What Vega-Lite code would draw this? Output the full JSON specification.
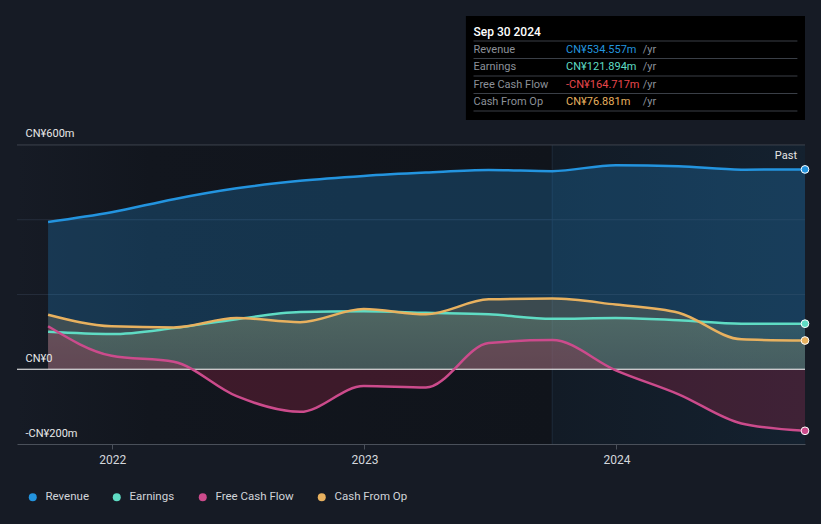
{
  "$schema": "https://vega.github.io/schema/vega-lite/v6.json",
  "width": 788,
  "height": 428,
  "autosize": "none",
  "padding": {"left": 17, "top": 16, "right": 16, "bottom": 80},
  "background": "#161b25",
  "config": {
    "view": {"stroke": null},
    "font": "Roboto",
    "axis": {"titleColor": "transparent", "grid": false},
    "axisX": {"zindex": 1},
    "axisY": {"zindex": 1}
  },
  "datasets": {
    "fin": [
      {"date": "2021-09-30", "series": "Revenue", "value": 394},
      {"date": "2021-12-31", "series": "Revenue", "value": 420},
      {"date": "2022-03-31", "series": "Revenue", "value": 455},
      {"date": "2022-06-30", "series": "Revenue", "value": 484},
      {"date": "2022-09-30", "series": "Revenue", "value": 504},
      {"date": "2022-12-31", "series": "Revenue", "value": 517},
      {"date": "2023-03-31", "series": "Revenue", "value": 526},
      {"date": "2023-06-30", "series": "Revenue", "value": 533},
      {"date": "2023-09-30", "series": "Revenue", "value": 530},
      {"date": "2023-12-31", "series": "Revenue", "value": 546},
      {"date": "2024-03-31", "series": "Revenue", "value": 543},
      {"date": "2024-06-30", "series": "Revenue", "value": 534},
      {"date": "2024-09-30", "series": "Revenue", "value": 534.557},
      {"date": "2021-09-30", "series": "Earnings", "value": 100},
      {"date": "2021-12-31", "series": "Earnings", "value": 94},
      {"date": "2022-03-31", "series": "Earnings", "value": 110},
      {"date": "2022-06-30", "series": "Earnings", "value": 134},
      {"date": "2022-09-30", "series": "Earnings", "value": 153},
      {"date": "2022-12-31", "series": "Earnings", "value": 155},
      {"date": "2023-03-31", "series": "Earnings", "value": 151},
      {"date": "2023-06-30", "series": "Earnings", "value": 147},
      {"date": "2023-09-30", "series": "Earnings", "value": 135},
      {"date": "2023-12-31", "series": "Earnings", "value": 137},
      {"date": "2024-03-31", "series": "Earnings", "value": 131},
      {"date": "2024-06-30", "series": "Earnings", "value": 122},
      {"date": "2024-09-30", "series": "Earnings", "value": 121.894},
      {"date": "2021-09-30", "series": "Free Cash Flow", "value": 115},
      {"date": "2021-12-31", "series": "Free Cash Flow", "value": 36},
      {"date": "2022-03-31", "series": "Free Cash Flow", "value": 20},
      {"date": "2022-06-30", "series": "Free Cash Flow", "value": -72},
      {"date": "2022-09-30", "series": "Free Cash Flow", "value": -114},
      {"date": "2022-12-31", "series": "Free Cash Flow", "value": -45},
      {"date": "2023-03-31", "series": "Free Cash Flow", "value": -49},
      {"date": "2023-06-30", "series": "Free Cash Flow", "value": 70},
      {"date": "2023-09-30", "series": "Free Cash Flow", "value": 78},
      {"date": "2023-12-31", "series": "Free Cash Flow", "value": -3},
      {"date": "2024-03-31", "series": "Free Cash Flow", "value": -67},
      {"date": "2024-06-30", "series": "Free Cash Flow", "value": -145},
      {"date": "2024-09-30", "series": "Free Cash Flow", "value": -164.717},
      {"date": "2021-09-30", "series": "Cash From Op", "value": 146},
      {"date": "2021-12-31", "series": "Cash From Op", "value": 115},
      {"date": "2022-03-31", "series": "Cash From Op", "value": 112},
      {"date": "2022-06-30", "series": "Cash From Op", "value": 137},
      {"date": "2022-09-30", "series": "Cash From Op", "value": 126},
      {"date": "2022-12-31", "series": "Cash From Op", "value": 161},
      {"date": "2023-03-31", "series": "Cash From Op", "value": 147},
      {"date": "2023-06-30", "series": "Cash From Op", "value": 187},
      {"date": "2023-09-30", "series": "Cash From Op", "value": 189},
      {"date": "2023-12-31", "series": "Cash From Op", "value": 173},
      {"date": "2024-03-31", "series": "Cash From Op", "value": 151},
      {"date": "2024-06-30", "series": "Cash From Op", "value": 80},
      {"date": "2024-09-30", "series": "Cash From Op", "value": 76.881}
    ],
    "tip": [
      {"label": "Sep 30 2024", "kind": "header"},
      {"label": "Revenue", "series": "Revenue", "value": "CN¥534.557m", "kind": "row"},
      {"label": "Earnings", "series": "Earnings", "value": "CN¥121.894m", "kind": "row"},
      {"label": "Free Cash Flow", "series": "Free Cash Flow", "value": "-CN¥164.717m", "kind": "row"},
      {"label": "Cash From Op", "series": "Cash From Op", "value": "CN¥76.881m", "kind": "row"}
    ]
  },
  "resolve": {"scale": {"y": "independent"}},
  "layer": [
    {
      "data": {"name": "fin"},
      "layer": [
        {
          "mark": {"type": "line", "interpolate": "monotone", "strokeWidth": 2.5, "opacity": 0},
          "encoding": {
            "x": {"field": "date", "type": "temporal",
              "scale": {"type": "utc", "domain": [{"year": 2021, "month": 8, "date": 16, "utc": true}, {"year": 2024, "month": 9, "date": 30, "utc": true}]},
              "axis": {"values": [{"year": 2022, "month": 1, "date": 1, "utc": true}, {"year": 2023, "month": 1, "date": 1, "utc": true}, {"year": 2024, "month": 1, "date": 1, "utc": true}],
                "format": "%Y", "formatType": "utc", "labelColor": "#d4d7dc", "labelFontSize": 12, "labelPadding": 5,
                "tickColor": "#4a505a", "tickSize": 5, "domainColor": "#4a505a", "grid": false, "zindex": 1}},
            "y": {"field": "value", "type": "quantitative",
              "scale": {"domain": [-200, 945], "nice": false, "zero": false},
              "axis": {"values": [-200, 0, 600],
                "labelExpr": "datum.value == 0 ? 'CN¥0' : (datum.value < 0 ? '-CN¥' + (-datum.value) + 'm' : 'CN¥' + datum.value + 'm')",
                "grid": false, "domain": false, "ticks": false, "tickSize": 0, "labelAlign": "left", "labelPadding": -8,
                "labelBaseline": "alphabetic", "labelOffset": -8, "labelColor": "#e8e8e8", "labelFontSize": 11,
                "labelFlush": false, "labelOverlap": false, "zindex": 1}},
            "detail": {"field": "series"}
          }
        },
        {
          "data": {"values": [{}]},
          "mark": {"type": "rect", "color": {"gradient": "linear", "x1": 0, "y1": 0, "x2": 1, "y2": 0,
            "stops": [{"offset": 0, "color": "#161b25"}, {"offset": 0.25, "color": "#12161e"}, {"offset": 1, "color": "#10141b"}]}},
          "encoding": {
            "x": {"datum": {"year": 2021, "month": 8, "date": 16, "utc": true}, "type": "temporal"},
            "x2": {"datum": {"year": 2023, "month": 9, "date": 30, "utc": true}},
            "y": {"datum": 600, "type": "quantitative"},
            "y2": {"datum": -200}
          }
        },
        {
          "data": {"values": [{}]},
          "mark": {"type": "rect", "color": {"gradient": "linear", "x1": 0, "y1": 0, "x2": 1, "y2": 0,
            "stops": [{"offset": 0, "color": "#121b26"}, {"offset": 1, "color": "#14212f"}]}},
          "encoding": {
            "x": {"datum": {"year": 2023, "month": 9, "date": 30, "utc": true}, "type": "temporal"},
            "x2": {"datum": {"year": 2024, "month": 9, "date": 30, "utc": true}},
            "y": {"datum": 600, "type": "quantitative"},
            "y2": {"datum": -200}
          }
        },
        {
          "data": {"values": [{}]},
          "mark": {"type": "rule", "color": "#1d2a39", "strokeWidth": 1},
          "encoding": {
            "x": {"datum": {"year": 2023, "month": 9, "date": 30, "utc": true}, "type": "temporal"},
            "y": {"datum": 600, "type": "quantitative"},
            "y2": {"datum": -200}
          }
        },
        {
          "data": {"values": [{"g": 200}, {"g": 400}]},
          "mark": {"type": "rule", "color": "#262e3b", "strokeWidth": 1},
          "encoding": {"y": {"field": "g", "type": "quantitative"}}
        },
        {
          "data": {"values": [{}]},
          "mark": {"type": "rule", "color": "#3d434d", "strokeWidth": 1},
          "encoding": {"y": {"datum": 600, "type": "quantitative"}}
        },
        {
          "transform": [{"filter": "datum.series === 'Revenue'"}],
          "mark": {"type": "area", "interpolate": "monotone", "color": "rgba(35,148,223,0.25)"},
          "encoding": {
            "x": {"field": "date", "type": "temporal"},
            "y": {"field": "value", "type": "quantitative"},
            "y2": {"datum": 0}
          }
        },
        {
          "transform": [{"filter": "datum.series === 'Cash From Op'"}],
          "mark": {"type": "area", "interpolate": "monotone", "color": "rgba(232,177,95,0.18)"},
          "encoding": {
            "x": {"field": "date", "type": "temporal"},
            "y": {"field": "value", "type": "quantitative"},
            "y2": {"datum": 0}
          }
        },
        {
          "transform": [{"filter": "datum.series === 'Earnings'"}],
          "mark": {"type": "area", "interpolate": "monotone", "color": {"gradient": "linear", "x1": 0, "y1": 0, "x2": 0, "y2": 1,
            "stops": [{"offset": 0, "color": "rgba(120,160,135,0.32)"}, {"offset": 1, "color": "rgba(120,160,135,0.14)"}]}},
          "encoding": {
            "x": {"field": "date", "type": "temporal"},
            "y": {"field": "value", "type": "quantitative"},
            "y2": {"datum": 0}
          }
        },
        {
          "transform": [{"filter": "datum.series === 'Free Cash Flow'"}],
          "mark": {"type": "area", "interpolate": "monotone", "color": "rgba(155,38,72,0.32)"},
          "encoding": {
            "x": {"field": "date", "type": "temporal"},
            "y": {"field": "value", "type": "quantitative"},
            "y2": {"datum": 0}
          }
        },
        {
          "data": {"values": [{}]},
          "mark": {"type": "rule", "color": "#ffffff", "strokeWidth": 1},
          "encoding": {"y": {"datum": 0, "type": "quantitative"}}
        },
        {
          "mark": {"type": "line", "interpolate": "monotone", "strokeWidth": 2.5},
          "encoding": {
            "x": {"field": "date", "type": "temporal"},
            "y": {"field": "value", "type": "quantitative"},
            "color": {"field": "series", "type": "nominal",
              "scale": {"domain": ["Revenue", "Earnings", "Free Cash Flow", "Cash From Op"], "range": ["#2394df", "#5fdcc4", "#cc4b8c", "#e8b15f"]},
              "legend": {"orient": "none", "legendX": 10, "legendY": 475, "direction": "horizontal", "title": null,
                "symbolType": "circle", "symbolSize": 64, "symbolStrokeWidth": 0, "labelColor": "#d1d4d9",
                "labelFontSize": 11.5, "columnPadding": 22, "labelOffset": 7,
                "encode": {"symbols": {"update": {"fill": {"scale": "color", "field": "value"}, "stroke": {"value": "transparent"}, "opacity": {"value": 1}}}}}}
          }
        },
        {
          "transform": [{"filter": {"field": "date", "equal": {"year": 2024, "month": 9, "date": 30, "utc": true}}}],
          "mark": {"type": "point", "filled": true, "size": 60, "stroke": "#ffffff", "strokeWidth": 1, "opacity": 1},
          "encoding": {
            "x": {"field": "date", "type": "temporal"},
            "y": {"field": "value", "type": "quantitative"},
            "color": {"field": "series", "type": "nominal"}
          }
        },
        {
          "data": {"values": [{}]},
          "mark": {"type": "text", "text": "Past", "align": "right", "baseline": "middle", "dx": -8, "color": "#e6e6e6", "fontSize": 11},
          "encoding": {
            "x": {"datum": {"year": 2024, "month": 9, "date": 30, "utc": true}, "type": "temporal"},
            "y": {"datum": 571, "type": "quantitative"}
          }
        },
        {
          "data": {"values": [{}]},
          "mark": {"type": "rect", "color": "#000000"},
          "encoding": {
            "x": {"datum": {"year": 2023, "month": 5, "date": 28, "utc": true}, "type": "temporal"},
            "x2": {"datum": {"year": 2024, "month": 9, "date": 30, "utc": true}},
            "y": {"datum": 945, "type": "quantitative"},
            "y2": {"datum": 667}
          }
        }
      ]
    },
    {
      "data": {"name": "tip"},
      "encoding": {
        "y": {"field": "label", "type": "nominal",
          "axis": {"labels": false, "ticks": false, "domain": false, "grid": false},
          "scale": {"type": "band", "domain": ["Sep 30 2024", "Revenue", "Earnings", "Free Cash Flow", "Cash From Op"], "range": [7.5, 95], "paddingInner": 0, "paddingOuter": 0}}
      },
      "layer": [
        {
          "mark": {"type": "rule", "color": "#3a3f47", "strokeWidth": 1},
          "encoding": {
            "y": {"field": "label", "type": "nominal", "bandPosition": 1},
            "x": {"datum": {"year": 2023, "month": 6, "date": 8, "utc": true}, "type": "temporal"},
            "x2": {"datum": {"year": 2024, "month": 9, "date": 19, "utc": true}}
          }
        },
        {
          "transform": [{"filter": "datum.kind === 'header'"}],
          "mark": {"type": "text", "align": "left", "baseline": "middle", "color": "#ffffff", "fontSize": 12, "fontWeight": 500},
          "encoding": {
            "x": {"datum": {"year": 2023, "month": 6, "date": 8, "utc": true}, "type": "temporal"},
            "text": {"field": "label"}
          }
        },
        {
          "transform": [{"filter": "datum.kind === 'row'"}],
          "mark": {"type": "text", "align": "left", "baseline": "middle", "color": "#8c9199", "fontSize": 11},
          "encoding": {
            "x": {"datum": {"year": 2023, "month": 6, "date": 8, "utc": true}, "type": "temporal"},
            "text": {"field": "label"}
          }
        },
        {
          "transform": [{"filter": "datum.kind === 'row'"}],
          "mark": {"type": "text", "align": "left", "baseline": "middle", "color": "#8c9199", "fontSize": 11, "text": "/yr"},
          "encoding": {
            "x": {"datum": {"year": 2024, "month": 2, "date": 8, "utc": true}, "type": "temporal"}
          }
        },
        {
          "transform": [{"filter": "datum.kind === 'row'"}],
          "mark": {"type": "text", "align": "left", "baseline": "middle", "fontSize": 11},
          "encoding": {
            "x": {"datum": {"year": 2023, "month": 10, "date": 20, "utc": true}, "type": "temporal"},
            "text": {"field": "value"},
            "color": {"condition": {"test": "datum.series === 'Free Cash Flow'", "value": "#e8474c"}, "field": "series", "type": "nominal"}
          }
        }
      ]
    }
  ]
}
